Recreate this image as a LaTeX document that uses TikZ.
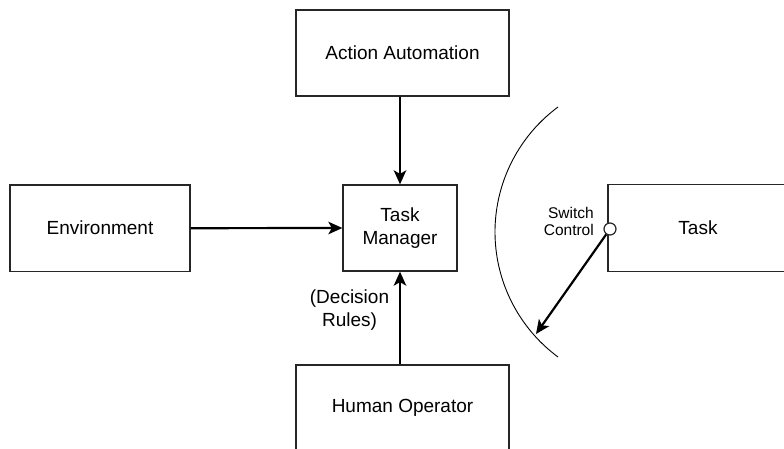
\documentclass[tikz,border=0pt]{standalone}
\usepackage{fontspec}
\setmainfont{Liberation Sans}
\usetikzlibrary{arrows.meta}
\begin{document}
\begin{tikzpicture}[x=1pt,y=-1pt,
  box/.style={draw=black!85,line width=1.3pt,minimum width=#1,inner sep=0pt,font=\fontsize{19}{23}\selectfont,align=center},
  box/.default=100pt,
  conn/.style={line width=2.2pt,-{Stealth[length=14pt,width=12.5pt,inset=3.5pt]}},
  lbl/.style={font=\fontsize{19}{23}\selectfont,align=center,inner sep=0pt}]
\useasboundingbox (0,0) rectangle (784,449);
\clip (0,0) rectangle (784,449);
\node[box=213pt,minimum height=86pt] (aa) at (402.5,53) {Action Automation};
\node[box=114pt,minimum height=86pt] (tm) at (400,228) {Task\\Manager};
\node[box=180pt,minimum height=86.5pt] (env) at (100,228.2) {Environment};
\node[box=213pt,minimum height=86pt] (ho) at (402.5,408) {Human Operator};
\node[box=180pt,minimum height=87pt] (task) at (698,228) {Task};
\node[draw=black!85,fill=white,circle,line width=1.2pt,minimum size=12pt,inner sep=0pt] (sw) at (610,229) {};
\node[anchor=east,align=right,inner sep=0pt,font=\fontsize{15.5}{17}\selectfont] (swl) at (594,221) {Switch\\Control};
\coordinate (swend) at (536,334);
\draw[conn] (aa.south -| tm.north) -- (tm.north);
\draw[conn] (env.east) -- (tm.west);
\draw[conn] (ho.north -| tm.south) -- (tm.south);
\node[lbl] (dr) at (349.5,310.5) {(Decision\\Rules)};
\draw[conn] (sw) -- (swend);
\draw[line width=0.9pt] (558,107) arc[start angle=126.5,end angle=233.5,radius=155.5pt];
\end{tikzpicture}
\end{document}
